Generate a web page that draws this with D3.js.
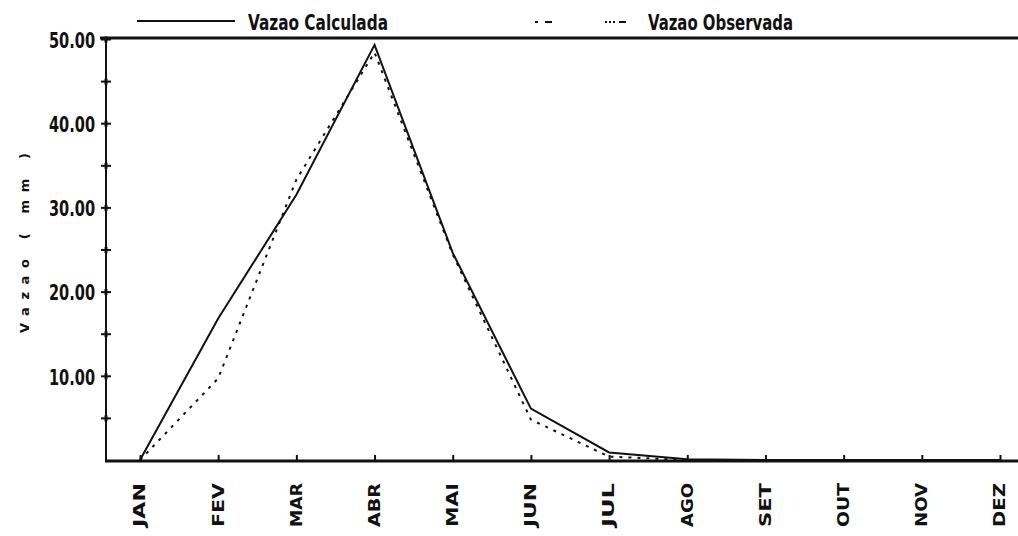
<!DOCTYPE html>
<html>
<head>
<meta charset="utf-8">
<script src="https://cdn.jsdelivr.net/npm/d3@7"></script>
<style>
  html, body { margin: 0; padding: 0; background: #fff; }
  svg { display: block; }
</style>
</head>
<body>
<script>
// ---- data ----
const months = ["JAN", "FEV", "MAR", "ABR", "MAI", "JUN", "JUL", "AGO", "SET", "OUT", "NOV", "DEZ"];
const vazaoCalculada = [0, 16.8, 31.5, 49.3, 24.6, 6.1, 0.9, 0.1, 0, 0, 0, 0];
const vazaoObservada = [0, 9.7, 33.3, 48.4, 24.4, 4.8, 0.4, 0, 0, 0, 0, 0];
const yTickValues = [5, 10, 15, 20, 25, 30, 35, 40, 45, 50];
const yLabelValues = [10, 20, 30, 40, 50];
const seriesNames = ["Vazao Calculada", "Vazao Observada"];
const yTitle = "Vazao ( mm )";

// ---- layout ----
const W = 1018, H = 536;
const svg = d3.select("body").append("svg").attr("width", W).attr("height", H);

const x = d3.scalePoint().domain(months).range([140, 1000]);
const y = d3.scaleLinear().domain([0, 50]).range([460, 39]);
const axisX = 106;

const ink = "#111";
const condensed = "'DejaVu Sans Condensed', 'Liberation Sans Narrow', sans-serif";

// top border
svg.append("line").attr("x1", 100).attr("x2", W).attr("y1", y(50) - 1).attr("y2", y(50) - 1)
  .attr("stroke", ink).attr("stroke-width", 3);

// left axis
const yAxis = d3.axisLeft(y).tickValues(yTickValues).tickSize(5).tickSizeOuter(0)
  .tickFormat(d => yLabelValues.includes(d) ? d3.format(".2f")(d) : "");
const gy = svg.append("g").attr("transform", `translate(${axisX},0)`).call(yAxis);
gy.select(".domain").remove();
gy.append("line").attr("x1", 0).attr("x2", 0).attr("y1", y(50)).attr("y2", y(0))
  .attr("stroke", ink).attr("stroke-width", 2);
gy.selectAll(".tick line").attr("x1", 5).attr("x2", -5).attr("stroke", ink).attr("stroke-width", 2);
gy.selectAll(".tick").append("line").attr("x1", 0).attr("x2", 0).attr("y1", -3).attr("y2", 3)
  .attr("stroke", ink).attr("stroke-width", 3);
gy.selectAll(".tick text")
  .attr("x", -11)
  .attr("dy", "0.38em")
  .attr("fill", ink)
  .attr("textLength", d => yLabelValues.includes(d) ? 46 : null)
  .attr("lengthAdjust", "spacingAndGlyphs")
  .style("font-family", condensed)
  .style("font-weight", "bold")
  .style("font-size", "22px");

// bottom axis
const xAxis = d3.axisBottom(x).tickSize(-5).tickSizeOuter(0).tickFormat("");
const gx = svg.append("g").attr("transform", `translate(0,${y(0)})`).call(xAxis);
gx.select(".domain").remove();
gx.selectAll(".tick line").attr("stroke", ink).attr("stroke-width", 2);
svg.append("line").attr("x1", axisX - 1).attr("x2", W).attr("y1", y(0) + 1).attr("y2", y(0) + 1)
  .attr("stroke", ink).attr("stroke-width", 3);

// month labels (rotated)
svg.append("g").selectAll("text").data(months).join("text")
  .attr("transform", d => `translate(${x(d)},527) rotate(-90)`)
  .attr("dy", "0.36em")
  .attr("text-anchor", "start")
  .attr("textLength", 44)
  .attr("lengthAdjust", "spacingAndGlyphs")
  .attr("fill", ink)
  .style("font-family", "'DejaVu Sans', sans-serif")
  .style("font-weight", "bold")
  .style("font-size", "15px")
  .text(d => d);

// y title
svg.append("text")
  .attr("transform", `translate(24,${(153 + 333) / 2}) rotate(-90)`)
  .attr("text-anchor", "middle")
  .attr("dy", "0.35em")
  .attr("textLength", 180)
  .attr("lengthAdjust", "spacing")
  .attr("fill", ink)
  .style("font-family", "'DejaVu Sans', sans-serif")
  .style("font-weight", "bold")
  .style("font-size", "13px")
  .text(yTitle);

// lines
const line = d3.line().x((d, i) => x(months[i])).y(d => y(d));
svg.append("path").datum(vazaoObservada)
  .attr("d", line).attr("fill", "none").attr("stroke", ink)
  .attr("stroke-width", 2).attr("stroke-dasharray", "3,6");
svg.append("path").datum(vazaoCalculada)
  .attr("d", line).attr("fill", "none").attr("stroke", ink)
  .attr("stroke-width", 2);

// legend
const legFont = g => g.attr("fill", ink)
  .style("font-family", condensed)
  .style("font-weight", "bold").style("font-size", "21px");
svg.append("line").attr("x1", 137).attr("x2", 235).attr("y1", 21).attr("y2", 21)
  .attr("stroke", ink).attr("stroke-width", 2);
svg.append("text").attr("x", 248).attr("y", 30)
  .attr("textLength", 140).attr("lengthAdjust", "spacingAndGlyphs")
  .call(legFont).text(seriesNames[0]);
svg.append("line").attr("x1", 535).attr("x2", 626).attr("y1", 22).attr("y2", 22)
  .attr("stroke", ink).attr("stroke-width", 2)
  .attr("stroke-dasharray", "3,7,7,53,2,2,2,2,2,4,10,100");
svg.append("text").attr("x", 648).attr("y", 30)
  .attr("textLength", 145).attr("lengthAdjust", "spacingAndGlyphs")
  .call(legFont).text(seriesNames[1]);
</script>
</body>
</html>
